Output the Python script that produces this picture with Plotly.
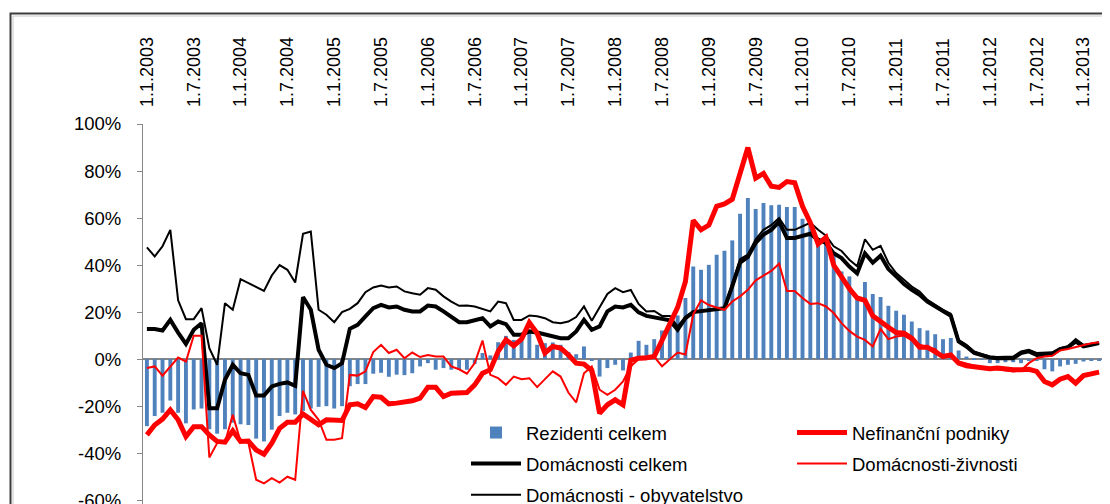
import plotly.graph_objects as go

# monthly categories 1.1.2003 .. 1.3.2013
mesice = [f"1.{m}.{r}" for r in range(2003, 2014) for m in range(1, 13)][:123]
popisky = mesice[::6]
y_ticks = list(range(-60, 101, 20))
y_labels = [f"{v}%" for v in y_ticks]

rezidenti = [-28.5, -24.2, -22.8, -17.6, -22.8, -27.3, -21.4, -21.0, -29.8, -31.7,
             -29.8, -27.0, -27.7, -28.0, -33.8, -35.0, -30.0, -24.2, -22.8, -23.5,
             -22.0, -21.0, -20.3, -20.0, -21.0, -20.0, -11.5, -10.6, -10.6, -6.2,
             -5.8, -7.5, -6.6, -6.8, -6.0, -3.1, -1.7, -4.5, -3.8, -4.5,
             -4.5, -4.5, -2.0, 2.6, 1.6, 7.2, 9.9, 8.2, 7.8, 11.8,
             6.1, 6.8, 7.1, 6.1, 3.0, 2.1, 5.4, -0.6, -7.4, -3.8,
             -2.4, -4.8, 2.8, 7.8, 6.1, 8.5, 12.2, 15.3, 18.6, 26.0,
             39.4, 38.0, 40.1, 44.4, 46.1, 50.5, 61.8, 68.5, 63.8, 66.4,
             65.4, 65.7, 64.7, 64.7, 59.7, 57.2, 50.8, 49.4, 44.4, 37.3,
             35.2, 26.7, 32.8, 27.7, 26.4, 22.7, 20.6, 18.9, 16.0, 13.2,
             12.2, 10.6, 8.5, 9.0, 3.7, 1.1, 0.4, -0.3, -1.7, -1.7,
             -1.3, -1.3, -1.7, -0.8, -0.6, -4.3, -5.2, -3.1, -2.4, -2.0,
             -1.0, -0.7, -0.6]

nefinancni = [-32.2, -28.0, -25.5, -21.6, -25.8, -32.9, -28.7, -28.7, -32.2, -35.0,
              -35.3, -30.5, -35.0, -34.8, -38.6, -40.4, -35.7, -29.4, -26.8, -26.8,
              -23.3, -25.4, -27.9, -25.8, -26.1, -26.1, -19.4, -19.0, -20.6, -15.9,
              -16.2, -19.0, -18.7, -18.3, -17.7, -16.6, -12.0, -12.0, -15.9, -14.5,
              -14.5, -14.2, -10.9, -6.0, -4.5, 3.3, 8.2, 5.7, 8.5, 15.5,
              11.0, 2.6, 5.4, 4.7, 1.8, -1.7, -2.1, -4.8, -23.0, -19.4,
              -17.3, -19.4, -0.5, 0.4, 0.6, 1.1, 8.0, 15.0, 22.0, 33.0,
              59.0, 55.0, 57.0, 65.0, 66.0, 68.0, 79.0, 90.0, 77.0, 79.0,
              73.5, 73.0, 75.5, 75.0, 65.0, 58.0, 49.0, 51.8, 40.0, 35.0,
              30.0, 26.0, 25.0, 18.4, 15.7, 13.6, 11.3, 11.0, 8.9, 5.1,
              5.1, 3.3, 1.1, 1.8, -1.7, -2.8, -3.4, -3.8, -4.1, -3.8,
              -4.3, -4.5, -4.5, -4.3, -5.2, -9.5, -10.9, -8.5, -7.4, -10.2,
              -7.0, -6.0, -5.5]

dom_celkem = [12.8, 12.8, 12.2, 16.7, 11.3, 6.5, 12.5, 15.3, -20.9, -20.9,
              -8.8, -2.4, -6.0, -6.7, -15.5, -15.5, -11.6, -10.5, -9.9, -11.3,
              26.4, 21.0, 4.0, -2.4, -3.8, -1.7, 12.9, 14.6, 18.2, 21.7,
              23.1, 22.0, 22.4, 21.0, 20.3, 20.3, 22.8, 22.4, 20.3, 18.2,
              15.7, 15.7, 16.7, 17.4, 13.9, 16.0, 14.9, 10.4, 10.4, 11.8,
              11.3, 10.6, 9.6, 8.9, 8.9, 11.8, 16.7, 12.5, 13.9, 20.3,
              22.4, 22.0, 23.1, 19.9, 18.4, 17.8, 17.2, 16.5, 12.5, 17.4,
              20.0, 20.4, 20.6, 21.0, 21.7, 31.0, 41.0, 43.5, 49.5, 53.0,
              55.0, 58.5, 51.5, 51.5, 52.5, 53.3, 50.8, 49.4, 45.0, 43.0,
              39.4, 36.5, 45.0, 41.0, 44.0, 38.3, 35.2, 32.0, 29.5, 27.4,
              24.5, 22.4, 20.3, 18.4, 7.5, 5.4, 2.6, 1.6, 0.7, 0.4,
              0.4, 0.4, 2.6, 3.3, 1.8, 1.8, 2.1, 4.3, 5.1, 7.5,
              5.4, 6.1, 6.8]

zivnosti = [-3.8, -3.1, -7.0, -3.1, 0.7, -1.0, 10.0, 10.0, -41.8, -35.7,
            -35.5, -23.7, -35.0, -35.5, -51.3, -52.8, -50.6, -52.5, -50.0, -51.3,
            -13.5, -21.6, -25.8, -34.3, -34.3, -33.6, -6.7, -7.0, -5.2, 3.0,
            6.1, 2.6, 4.0, 0.4, 2.8, 0.9, 1.8, 1.1, 1.1, -3.1,
            -4.3, -6.2, -1.7, 7.9, -6.7, -8.1, -10.9, -7.4, -8.5, -8.1,
            -11.9, -8.5, -5.2, -7.4, -14.2, -18.4, -6.0, -3.1, -13.0, -15.2,
            -13.0, -9.5, -3.0, 0.0, 0.0, 1.0, -3.0, 0.0, 2.8, 2.0,
            19.0, 25.0, 23.0, 22.0, 21.0, 24.5, 26.7, 29.5, 33.5, 35.5,
            37.5, 40.6, 29.0, 29.0, 26.0, 23.5, 23.8, 22.4, 19.6, 15.3,
            12.0, 9.6, 8.2, 5.4, 12.8, 8.5, 9.6, 10.0, 8.2, 6.1,
            5.1, 4.3, 1.1, 1.4, -1.0, -2.0, -2.8, -3.4, -3.8, -4.3,
            -4.8, -5.2, -4.8, -1.7, 0.4, 1.1, 1.4, 3.7, 4.3, 5.1,
            6.1, 6.8, 7.2]

obyvatelstvo = [47.5, 43.7, 48.0, 55.0, 25.0, 17.0, 17.0, 21.7, 4.7, -2.4,
                23.8, 21.0, 34.0, 32.3, 30.5, 29.0, 35.6, 40.0, 38.0, 32.6,
                53.3, 54.3, 21.0, 18.9, 15.7, 20.0, 21.4, 23.8, 28.5, 30.5,
                31.3, 30.5, 30.9, 28.8, 28.0, 27.4, 30.2, 29.5, 26.7, 24.5,
                22.7, 22.8, 22.4, 21.4, 20.3, 24.5, 23.8, 16.7, 16.7, 18.6,
                18.2, 17.4, 15.7, 15.3, 16.0, 17.9, 22.4, 16.3, 21.7, 27.7,
                30.2, 28.5, 29.4, 23.5, 20.3, 20.5, 18.4, 18.4, 13.9, 18.0,
                20.3, 20.6, 21.0, 21.2, 22.0, 32.5, 42.5, 44.5, 51.0, 55.0,
                57.0, 60.0, 55.0, 55.0, 56.5, 58.0, 55.0, 52.5, 48.0, 46.0,
                42.3, 39.5, 51.0, 46.5, 48.2, 41.0, 36.6, 33.8, 30.9, 28.8,
                25.2, 23.1, 21.0, 19.3, 8.2, 6.1, 3.3, 2.1, 1.1, 0.9,
                0.9, 1.1, 3.3, 4.0, 2.6, 2.6, 2.9, 4.7, 5.4, 8.5,
                6.1, 6.4, 7.1]

# the page body keeps its default 8px margin, so the figure is drawn 8px in
OFF = 8
W, H = 1110 - OFF, 504 - OFF
L, R, T, B = 143 - OFF, 7, 124 - OFF, 0
YMIN, YMAX = -61.6, 100
PW, PH = W - L - R, H - T - B
FONT = "Liberation Sans, Arial, sans-serif"
SEDA = "#868686"


# screen pixel -> paper coordinate
def px_x(p):
    return (p - OFF - L) / PW


def px_y(p):
    return (H - B - (p - OFF)) / PH


fig = go.Figure()
fig.add_trace(go.Bar(x=mesice, y=rezidenti, name="Rezidenti celkem",
                     marker=dict(color="#4F81BD", line=dict(width=0)),
                     legend="legend", legendgroup="a", legendrank=1))
fig.add_trace(go.Scatter(x=mesice, y=obyvatelstvo, name="Domácnosti - obyvatelstvo", mode="lines",
                         line=dict(color="black", width=2),
                         legend="legend", legendgroup="e", legendrank=3))
fig.add_trace(go.Scatter(x=mesice, y=dom_celkem, name="Domácnosti celkem", mode="lines",
                         line=dict(color="black", width=4),
                         legend="legend", legendgroup="c", legendrank=2))
fig.add_trace(go.Scatter(x=mesice, y=zivnosti, name="Domácnosti-živnosti", mode="lines",
                         line=dict(color="#FF0000", width=2),
                         legend="legend2", legendgroup="d", legendrank=2))
fig.add_trace(go.Scatter(x=mesice, y=nefinancni, name="Nefinanční podniky", mode="lines",
                         line=dict(color="#FF0000", width=5),
                         legend="legend2", legendgroup="b", legendrank=1))

leg = dict(bgcolor="rgba(0,0,0,0)", borderwidth=0, yanchor="top", xanchor="left",
           font=dict(family=FONT, size=18.5, color="black"), tracegroupgap=4,
           itemwidth=50, traceorder="grouped")

fig.update_layout(
    width=W, height=H,
    margin=dict(l=L, r=R, t=T, b=B, pad=0, autoexpand=False),
    paper_bgcolor="white", plot_bgcolor="white",
    font=dict(family=FONT, size=18.5, color="black"),
    bargap=0.5,
    showlegend=True,
    legend=dict(leg, x=px_x(466), y=px_y(414)),
    legend2=dict(leg, x=px_x(792), y=px_y(414)),
    xaxis=dict(type="category", categoryorder="array", categoryarray=mesice,
               range=[-0.5, len(mesice) - 0.5], side="top", automargin=False,
               tickmode="array", tickvals=popisky, ticktext=popisky,
               tickangle=-90, ticks="", ticklabelstandoff=16,
               showline=False, showgrid=False, zeroline=False,
               tickfont=dict(family=FONT, size=18, color="black")),
    xaxis2=dict(overlaying="x", anchor="free", position=-YMIN / (YMAX - YMIN), side="bottom",
                range=[-0.5, len(mesice) - 0.5], tickmode="array", automargin=False,
                tickvals=[i - 0.5 for i in range(0, len(mesice), 6)],
                ticks="outside", ticklen=5, tickcolor=SEDA, tickwidth=1,
                showticklabels=False, showline=False, showgrid=False, zeroline=False),
    yaxis=dict(range=[YMIN, YMAX], tickmode="array", tickvals=y_ticks, ticktext=y_labels,
               ticks="outside", ticklen=5, tickcolor=SEDA, automargin=False,
               ticklabelstandoff=12, ticklabeloverflow="allow",
               showline=True, linecolor=SEDA, linewidth=1,
               showgrid=False, zeroline=True, zerolinecolor=SEDA, zerolinewidth=1.5,
               tickfont=dict(family=FONT, size=18.5, color="black")),
    shapes=[
        dict(type="rect", xref="paper", yref="paper", x0=px_x(10.5), y0=px_y(530),
             x1=px_x(1130), y1=px_y(13.5), line=dict(color="#3c3c3c", width=2), layer="below"),
        dict(type="rect", xref="paper", yref="paper", x0=px_x(13), y0=px_y(530),
             x1=px_x(1130), y1=px_y(16), line=dict(color="#c8c8c8", width=1), layer="below"),
    ],
)

fig.write_html("out.html")
